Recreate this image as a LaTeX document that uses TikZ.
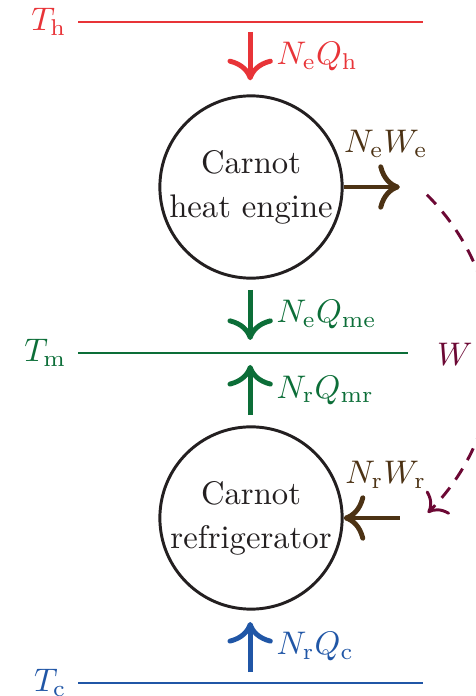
\documentclass[tikz,border=0pt]{standalone}
\usepackage{tikz}
\usetikzlibrary{arrows.meta,positioning}
\definecolor{hot}{RGB}{232,52,56}
\definecolor{mid}{RGB}{12,110,56}
\definecolor{cold}{RGB}{32,86,166}
\definecolor{work}{RGB}{76,50,20}
\definecolor{total}{RGB}{108,8,52}
\definecolor{ink}{RGB}{35,31,32}
\tikzset{
  >={Computer Modern Rightarrow[scale=1.35]},
  machine/.style={circle,draw=ink,line width=0.9pt,minimum size=1.96cm,inner sep=0pt,
    align=center,text=ink},
  level/.style={draw=#1,line width=0.9pt},
  level/.default=ink,
  heat/.style={->,line width=1.5pt,draw=#1},
  heat/.default=ink,
  qlabel/.style={right=4pt,text=#1},
  temp/.style={left,text=#1},
}
\begin{document}
\begin{tikzpicture}
  \useasboundingbox (0,0) rectangle (5.108,7.484);
  % reservoirs
  \coordinate (h1) at (0.839,7.247); \coordinate (h2) at (4.548,7.247);
  \coordinate (m1) at (0.839,3.688); \coordinate (m2) at (4.387,3.688);
  \coordinate (c1) at (0.839,0.140); \coordinate (c2) at (4.548,0.140);
  \draw[level=hot] (h1) -- (h2);
  \draw[level=mid] (m1) -- (m2);
  \draw[level=cold] (c1) -- (c2);
  \node[temp=hot] (th) at (h1) {$T_\mathrm{h}$};
  \node[temp=mid] (tm) at (m1) {$T_\mathrm{m}$};
  \node[temp=cold] (tc) at (c1) {$T_\mathrm{c}$};
  % machines
  \node[machine] (eng) at (2.699,5.473) {Carnot\\[1.5pt]heat engine};
  \node[machine] (fri) at (2.699,1.914) {Carnot\\[1.5pt]refrigerator};
  % heat flows
  \coordinate (qh1) at (2.69,7.14);  \coordinate (qh2) at (2.69,6.62);
  \coordinate (qe1) at (2.69,4.366); \coordinate (qe2) at (2.69,3.828);
  \coordinate (qr1) at (2.69,3.02);  \coordinate (qr2) at (2.69,3.56);
  \coordinate (qc1) at (2.69,0.258); \coordinate (qc2) at (2.69,0.796);
  \draw[heat=hot] (qh1) -- node[qlabel=hot] {$N_\mathrm{e}Q_\mathrm{h}$} (qh2);
  \draw[heat=mid] (qe1) -- node[qlabel=mid] {$N_\mathrm{e}Q_\mathrm{me}$} (qe2);
  \draw[heat=mid] (qr1) -- node[qlabel=mid] {$N_\mathrm{r}Q_\mathrm{mr}$} (qr2);
  \draw[heat=cold] (qc1) -- node[qlabel=cold] {$N_\mathrm{r}Q_\mathrm{c}$} (qc2);
  % work
  \coordinate (we) at (4.30,5.473);
  \coordinate (wr) at (4.30,1.914);
  \draw[heat=work] (eng.east) -- node[pos=0.75,above=5pt,text=work] {$N_\mathrm{e}W_\mathrm{e}$} (we);
  \draw[heat=work] (wr) -- node[pos=0.25,above=5pt,text=work] {$N_\mathrm{r}W_\mathrm{r}$} (fri.east);
  \coordinate (ws) at (4.59,5.39);
  \coordinate (wt) at (4.60,1.97);
  \draw[->,line width=0.9pt,dash pattern=on 4pt off 3pt,total] (ws) to[bend left=45] (wt);
  \node[text=total] (w) at (4.89,3.67) {$W$};
\end{tikzpicture}
\end{document}
